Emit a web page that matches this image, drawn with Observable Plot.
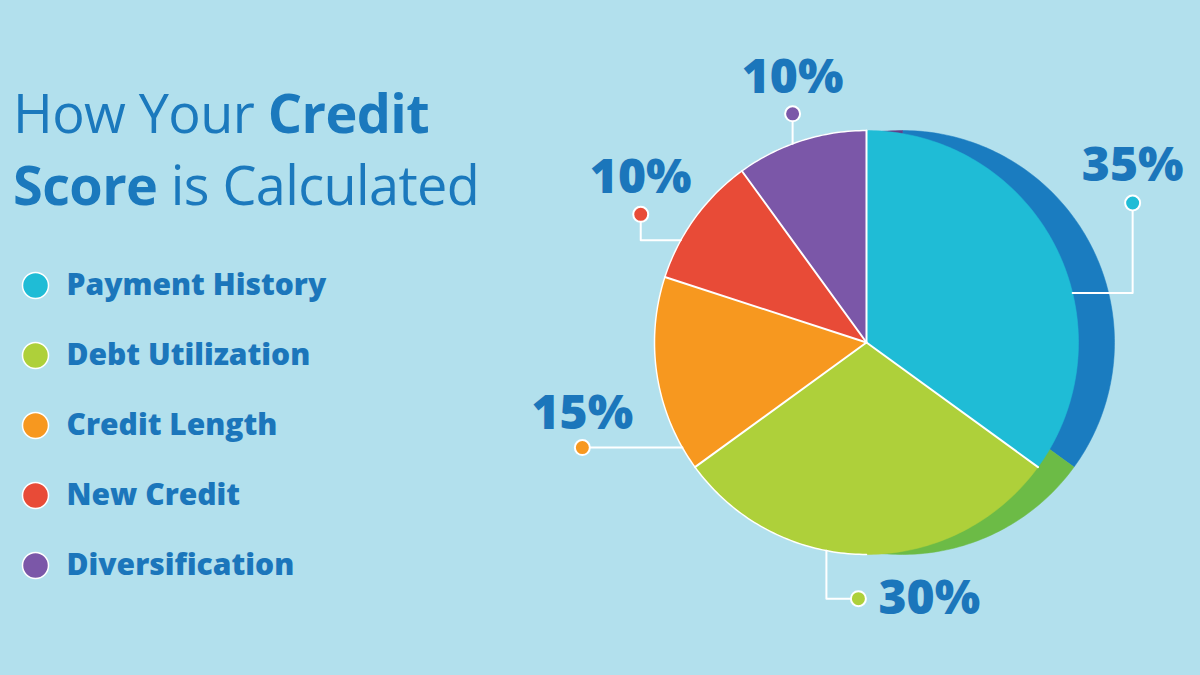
<!DOCTYPE html>
<html><head><meta charset="utf-8">
<script src="https://cdn.jsdelivr.net/npm/d3@7"></script>
<script src="https://cdn.jsdelivr.net/npm/@observablehq/plot@0.6"></script>
<style>
html,body{margin:0;padding:0;background:#b2e0ed;overflow:hidden;width:1200px;height:675px}
#wrap{position:relative;width:1200px;height:675px}
#title{position:absolute;left:13px;top:76px;font-family:"Open Sans",sans-serif;font-size:54px;line-height:72px;color:#1b79bd;letter-spacing:-0.6px;font-weight:400}
#title b{font-weight:700}
</style></head>
<body><div id="wrap"><div id="title">How Your <b>Credit</b><br><b>Score</b> is Calculated</div><div id="chart"></div></div>
<script>
// ---- data ----
const categories = ["Payment History", "Debt Utilization", "Credit Length", "New Credit", "Diversification"];
const shares = [35, 30, 15, 10, 10];
const shareLabels = ["35%", "30%", "15%", "10%", "10%"];

// ---- styles ----
const colors = ["#1fbcd6", "#aed03a", "#f7981f", "#e84b37", "#7b57a8"];
const sideColors = ["#1a7cc0", "#6cbb46", "#d97e10", "#c33a28", "#5e3f8a"];
const textColor = "#1b76bb";

// ---- layout ----
const W = 1200, H = 675;
const cx = 866, cy = 342, R = 212, depth = 36;
const leaderLayout = [
  {angle: 76.5, steps: [[60, 0], [0, -90]], label: [0, -37], anchor: "middle"},
  {angle: 190.9, steps: [[0, 48], [32, 0]], label: [20, 0], anchor: "start"},
  {angle: 240.3, steps: [[-100, 0]], label: [0, -34], anchor: "middle"},
  {angle: 298.8, steps: [[-40, 0], [0, -26]], label: [0, -37], anchor: "middle"},
  {angle: 339.6, steps: [[0, -30]], label: [0, -36], anchor: "middle"}
];
const legendX = 35, legendTextX = 66, legendTop = 285, legendStep = 70;

const data = categories.map((c, i) => ({category: c, share: shares[i], label: shareLabels[i], i}));
const arcs = d3.pie().sort(null).value(d => d.share)(data);

const pt = (a, ox = 0) => ({x: cx + ox + R * Math.sin(a), y: cy - R * Math.cos(a)});
function slicePoly(p, ox) {
  const n = Math.max(2, Math.ceil((p.endAngle - p.startAngle) / (Math.PI / 180)));
  const pts = [{x: cx + ox, y: cy}];
  for (let k = 0; k <= n; k++) pts.push(pt(p.startAngle + (p.endAngle - p.startAngle) * k / n, ox));
  pts.push({x: cx + ox, y: cy});
  return pts;
}
// outline of the front face on the left half
const outline = d3.range(180, 361, 1).map(d => pt(d * Math.PI / 180));
// radial separators
const separators = arcs.flatMap((p, i) => [{x: cx, y: cy, i}, {...pt(p.startAngle), i}]);
// leaders
const leaders = data.flatMap((d, i) => {
  const L = leaderLayout[i];
  let p = pt(L.angle * Math.PI / 180);
  const pts = [{...p, i}];
  for (const [dx, dy] of L.steps) { p = {x: p.x + dx, y: p.y + dy}; pts.push({...p, i}); }
  d.dotX = p.x; d.dotY = p.y;
  d.labX = p.x + L.label[0]; d.labY = p.y + L.label[1]; d.anchor = L.anchor;
  return pts;
});

const chart = Plot.plot({
  width: W, height: H, margin: 0,
  x: {domain: [0, W], range: [0, W], axis: null},
  y: {domain: [0, H], range: [0, H], axis: null},
  style: {background: "transparent", overflow: "visible"},
  marks: [
    // extruded side
    ...arcs.map((p, i) => Plot.line(slicePoly(p, depth), {x: "x", y: "y", fill: sideColors[i], stroke: sideColors[i], strokeWidth: 0.5})),
    // front faces
    ...arcs.map((p, i) => Plot.line(slicePoly(p, 0), {x: "x", y: "y", fill: colors[i], stroke: colors[i], strokeWidth: 0.5})),
    Plot.line(separators, {x: "x", y: "y", z: "i", stroke: "white", strokeWidth: 2}),
    Plot.line(outline, {x: "x", y: "y", stroke: "white", strokeWidth: 1.5}),
    // leaders
    Plot.line(leaders, {x: "x", y: "y", z: "i", stroke: "white", strokeWidth: 2}),
    Plot.dot(data, {x: "dotX", y: "dotY", r: 7.5, fill: (d, i) => colors[i], stroke: "white", strokeWidth: 2}),
    ...data.map(d => Plot.text([d], {x: "labX", y: "labY", text: "label", textAnchor: d.anchor, lineAnchor: "middle",
      fontSize: 48, fontWeight: 800, fontFamily: "Open Sans", fill: textColor})),
    // legend
    Plot.dot(data, {x: () => legendX, y: (d, i) => legendTop + i * legendStep, r: 13, fill: (d, i) => colors[i], stroke: "white", strokeWidth: 1.5}),
    Plot.text(data, {x: () => legendTextX, y: (d, i) => legendTop + i * legendStep, text: "category", textAnchor: "start", lineAnchor: "middle",
      fontSize: 30, fontWeight: 800, fontFamily: "Open Sans", fill: textColor})
  ]
});
chart.style.position = "absolute";
chart.style.left = "0"; chart.style.top = "0";
document.getElementById("chart").appendChild(chart);
</script></body></html>
